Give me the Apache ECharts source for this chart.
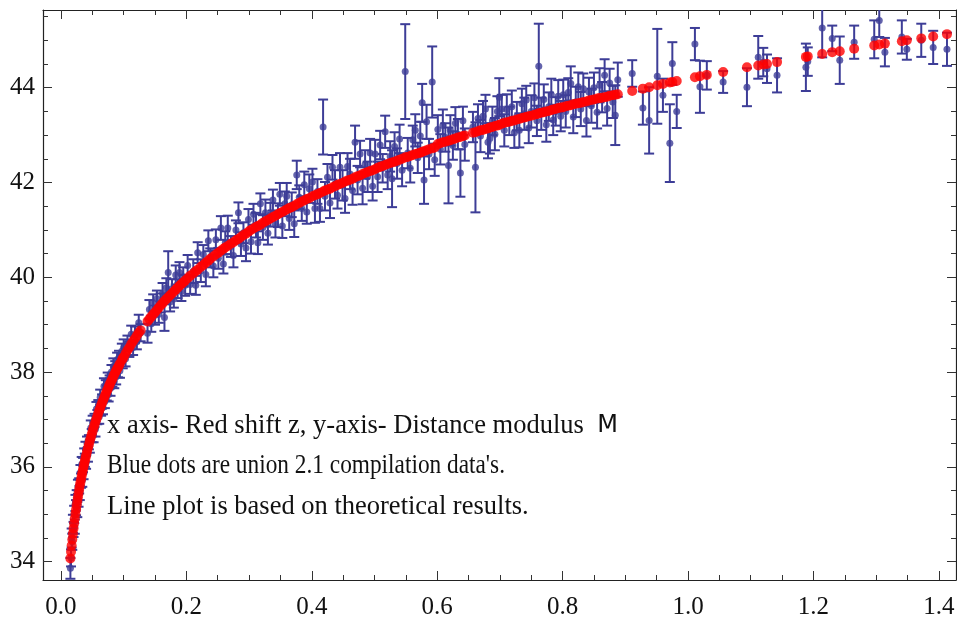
<!DOCTYPE html>
<html>
<head>
<meta charset="utf-8">
<title>Union 2.1 distance modulus</title>
<script src="https://cdn.jsdelivr.net/npm/echarts@6/dist/echarts.min.js"></script>
<style>
  html, body { margin: 0; padding: 0; background: #fff; }
  #chart { width: 957px; height: 619px; }
</style>
</head>
<body>
<div id="chart"></div>
<script>
// redshift z of each supernova
const redshift = [
  0.015, 0.016, 0.017, 0.018, 0.019, 0.020, 0.021, 0.022, 0.023, 0.024, 0.025, 0.026, 0.027, 0.028, 0.029, 0.030, 0.031, 0.032, 0.033, 0.034, 0.035, 0.036, 0.037, 0.038, 0.039, 0.040,
  0.0415, 0.043, 0.0445, 0.046, 0.0475, 0.049, 0.0505, 0.052, 0.0535, 0.055, 0.0565, 0.058, 0.0595, 0.061, 0.0625, 0.064, 0.0655, 0.067, 0.0685, 0.070, 0.0715, 0.073, 0.0745, 0.076, 0.0775, 0.079, 0.0805, 0.082, 0.0835, 0.085, 0.0865, 0.088, 0.0895, 0.091, 0.0925, 0.094, 0.097, 0.0985, 0.100,
  0.103, 0.106, 0.109, 0.112, 0.115, 0.118, 0.121, 0.124, 0.127, 0.138, 0.141, 0.144, 0.147, 0.150, 0.153, 0.156, 0.159, 0.162, 0.165, 0.168, 0.171, 0.174, 0.177, 0.180, 0.183, 0.186, 0.189, 0.192, 0.195, 0.198,
  0.202, 0.206, 0.211, 0.215, 0.218, 0.223, 0.227, 0.231, 0.235, 0.238, 0.243, 0.247, 0.251, 0.255, 0.259, 0.262, 0.266, 0.271, 0.275, 0.279, 0.283, 0.287, 0.291, 0.295, 0.299,
  0.303, 0.307, 0.311, 0.314, 0.318, 0.322, 0.326, 0.330, 0.334, 0.338, 0.342, 0.346, 0.349, 0.353, 0.357, 0.360, 0.364, 0.368, 0.372, 0.376, 0.380, 0.384, 0.388, 0.392, 0.396,
  0.401, 0.405, 0.409, 0.413, 0.418, 0.421, 0.425, 0.429, 0.433, 0.437, 0.441, 0.445, 0.449, 0.453, 0.457, 0.461, 0.465, 0.469, 0.473, 0.477, 0.481, 0.485, 0.489, 0.493, 0.497,
  0.501, 0.505, 0.509, 0.513, 0.517, 0.521, 0.525, 0.528, 0.532, 0.536, 0.540, 0.544, 0.549, 0.553, 0.557, 0.561, 0.565, 0.569, 0.573, 0.576, 0.579, 0.583, 0.587, 0.592, 0.596,
  0.601, 0.605, 0.609, 0.613, 0.618, 0.621, 0.625, 0.629, 0.633, 0.637, 0.641, 0.644, 0.657, 0.661, 0.665, 0.669, 0.673, 0.677, 0.681, 0.684, 0.688, 0.692, 0.696, 0.699,
  0.703, 0.707, 0.711, 0.715, 0.719, 0.723, 0.727, 0.731, 0.735, 0.739, 0.742, 0.746, 0.750, 0.755, 0.759, 0.762, 0.766, 0.770, 0.774, 0.778, 0.782, 0.785, 0.789, 0.793, 0.797,
  0.801, 0.805, 0.809, 0.813, 0.817, 0.821, 0.825, 0.829, 0.833, 0.838, 0.842, 0.846, 0.850, 0.855, 0.859, 0.863, 0.867, 0.871, 0.875, 0.880, 0.884, 0.888,
  0.911, 0.928, 0.938, 0.951, 0.960, 0.971, 0.975, 0.982, 1.011, 1.019, 1.030, 1.056, 1.094, 1.112, 1.120, 1.126, 1.142, 1.188, 1.191, 1.214, 1.230, 1.242, 1.265, 1.297, 1.305, 1.314, 1.341, 1.349, 1.372, 1.391, 1.413
];

// theoretical distance modulus at each redshift (red dots)
const muTheory = [
  34.07, 34.21, 34.34, 34.47, 34.59, 34.70, 34.81, 34.91, 35.01, 35.10, 35.19, 35.28, 35.36, 35.44, 35.52, 35.60, 35.67, 35.74, 35.81, 35.87, 35.94, 36.00, 36.06, 36.12, 36.18, 36.24,
  36.32, 36.40, 36.47, 36.55, 36.62, 36.69, 36.76, 36.83, 36.89, 36.95, 37.01, 37.07, 37.13, 37.19, 37.24, 37.30, 37.35, 37.40, 37.45, 37.50, 37.55, 37.60, 37.64, 37.69, 37.73, 37.78, 37.82, 37.86, 37.91, 37.95, 37.99, 38.03, 38.07, 38.10, 38.14, 38.18, 38.25, 38.29, 38.32,
  38.39, 38.46, 38.52, 38.59, 38.65, 38.71, 38.77, 38.83, 38.88, 39.07, 39.12, 39.17, 39.22, 39.26, 39.31, 39.36, 39.41, 39.45, 39.50, 39.54, 39.58, 39.62, 39.66, 39.70, 39.74, 39.78, 39.82, 39.86, 39.89, 39.93,
  39.98, 40.03, 40.08, 40.13, 40.16, 40.22, 40.26, 40.31, 40.35, 40.39, 40.44, 40.48, 40.52, 40.56, 40.60, 40.63, 40.66, 40.71, 40.74, 40.78, 40.81, 40.85, 40.89, 40.92, 40.96,
  41.00, 41.03, 41.06, 41.08, 41.11, 41.15, 41.18, 41.21, 41.24, 41.27, 41.30, 41.33, 41.35, 41.38, 41.41, 41.43, 41.46, 41.48, 41.51, 41.54, 41.57, 41.60, 41.62, 41.65, 41.67,
  41.71, 41.73, 41.75, 41.78, 41.81, 41.83, 41.85, 41.87, 41.90, 41.92, 41.95, 41.97, 41.99, 42.02, 42.04, 42.06, 42.08, 42.11, 42.13, 42.15, 42.18, 42.20, 42.22, 42.24, 42.26,
  42.28, 42.31, 42.33, 42.35, 42.37, 42.39, 42.41, 42.42, 42.44, 42.46, 42.48, 42.50, 42.53, 42.54, 42.56, 42.58, 42.60, 42.61, 42.63, 42.65, 42.66, 42.68, 42.70, 42.72, 42.74,
  42.81, 42.83, 42.85, 42.86, 42.88, 42.89, 42.91, 42.93, 42.95, 42.96, 42.98, 42.99, 43.05, 43.06, 43.08, 43.10, 43.11, 43.13, 43.14, 43.16, 43.17, 43.19, 43.20, 43.22,
  43.24, 43.26, 43.27, 43.28, 43.30, 43.31, 43.33, 43.34, 43.36, 43.37, 43.38, 43.40, 43.41, 43.43, 43.44, 43.46, 43.47, 43.48, 43.50, 43.51, 43.53, 43.54, 43.55, 43.57, 43.58,
  43.59, 43.61, 43.62, 43.63, 43.65, 43.66, 43.67, 43.68, 43.70, 43.71, 43.73, 43.74, 43.75, 43.77, 43.78, 43.79, 43.80, 43.81, 43.83, 43.84, 43.85, 43.86,
  43.93, 43.98, 44.01, 44.05, 44.08, 44.11, 44.12, 44.14, 44.22, 44.24, 44.27, 44.33, 44.43, 44.47, 44.49, 44.50, 44.54, 44.65, 44.66, 44.71, 44.75, 44.77, 44.82, 44.89, 44.91, 44.93, 44.98, 45.00, 45.04, 45.08, 45.13
];

// observed distance modulus (blue dots)
const muObserved = [
  33.86, 34.08, 34.50, 34.42, 34.80, 34.68, 35.00, 34.74, 35.24, 35.14, 35.36, 35.10, 35.58, 35.33, 35.60, 35.45, 35.88, 35.71, 36.05, 35.72, 36.04, 35.88, 36.24, 36.14, 36.38, 36.10,
  36.50, 36.26, 36.52, 36.44, 36.82, 36.66, 36.93, 36.67, 36.98, 36.80, 37.22, 37.05, 37.27, 37.06, 37.47, 37.22, 37.38, 37.26, 37.70, 37.38, 37.68, 37.56, 37.84, 37.53, 37.79, 37.66, 38.00, 37.84, 38.12, 37.81, 38.09, 37.90, 38.26, 38.05, 38.30, 38.03, 38.44, 38.23, 38.52,
  38.28, 38.62, 38.48, 38.80, 38.52, 38.79, 38.64, 39.04, 38.83, 38.82, 39.32, 39.02, 39.46, 39.20, 39.55, 39.22, 39.46, 39.66, 39.15, 39.78, 40.10, 39.48, 39.76, 39.54, 40.05, 39.76, 40.10, 39.70, 40.01, 39.83,
  40.25, 39.85, 40.13, 39.83, 40.52, 40.14, 40.48, 40.06, 40.77, 40.41, 40.24, 40.79, 40.40, 41.04, 40.28, 40.73, 41.04, 40.65, 40.46, 41.00, 41.36, 40.70, 40.94, 40.62, 41.22,
  40.75, 41.33, 41.10, 40.73, 41.55, 41.05, 41.36, 40.93, 41.32, 41.63, 41.12, 41.31, 41.75, 41.08, 41.55, 41.71, 41.24, 41.53, 41.13, 42.16, 41.69, 41.45, 41.95, 41.38, 41.87,
  42.01, 41.45, 41.81, 41.45, 43.17, 41.71, 42.11, 41.57, 42.32, 41.96, 41.73, 42.32, 41.94, 41.66, 42.34, 42.18, 41.83, 42.85, 42.05, 42.60, 41.88, 42.38, 42.12, 42.62, 41.92,
  42.60, 42.12, 42.79, 42.30, 43.07, 42.16, 42.55, 42.08, 42.76, 42.40, 42.92, 42.26, 44.34, 42.62, 42.30, 42.90, 43.10, 42.52, 42.98, 43.68, 42.05, 43.28, 42.60, 44.12, 42.48,
  43.12, 42.70, 43.20, 42.95, 42.36, 43.10, 42.78, 43.25, 43.02, 42.20, 43.30, 42.80, 43.17, 42.32, 43.35, 42.98, 43.40, 43.55, 42.85, 42.93, 43.30, 43.02, 43.50, 43.80,
  43.55, 43.10, 43.54, 43.30, 43.60, 43.05, 43.40, 43.10, 43.66, 43.45, 43.74, 43.15, 43.50, 43.79, 43.30, 44.45, 43.45, 43.75, 43.22, 43.60, 43.85, 43.32, 43.50, 43.82, 43.40,
  43.85, 43.50, 43.90, 44.09, 43.38, 43.70, 44.02, 43.55, 43.98, 43.31, 43.91, 43.62, 44.00, 43.48, 44.05, 43.80, 44.26, 43.56, 44.10, 43.70, 43.42, 44.17,
  44.30, 43.57, 43.31, 44.24, 43.84, 42.83, 44.51, 43.50, 44.92, 44.02, 44.26, 44.12, 44.01, 44.64, 44.54, 44.40, 44.26, 44.43, 44.55, 45.26, 45.04, 44.58, 44.96, 45.02, 45.42, 44.75, 45.07, 44.81, 45.00, 44.85, 44.81
];

// one-sigma error of each observed value
const muError = [
  0.22, 0.18, 0.20, 0.17, 0.19, 0.16, 0.18, 0.15, 0.17, 0.16, 0.15, 0.16, 0.15, 0.17, 0.16, 0.15, 0.16, 0.15, 0.16, 0.14, 0.15, 0.14, 0.15, 0.14, 0.15, 0.14,
  0.14, 0.15, 0.15, 0.14, 0.16, 0.14, 0.15, 0.15, 0.14, 0.16, 0.15, 0.15, 0.14, 0.15, 0.16, 0.14, 0.15, 0.15, 0.17, 0.14, 0.15, 0.16, 0.15, 0.15, 0.14, 0.16, 0.15, 0.15, 0.17, 0.15, 0.14, 0.16, 0.15, 0.16, 0.15, 0.15, 0.16, 0.15, 0.17,
  0.16, 0.15, 0.16, 0.18, 0.16, 0.17, 0.16, 0.17, 0.18, 0.20, 0.20, 0.17, 0.18, 0.20, 0.17, 0.18, 0.20, 0.22, 0.28, 0.20, 0.45, 0.20, 0.20, 0.18, 0.20, 0.20, 0.22, 0.20, 0.20, 0.22,
  0.22, 0.20, 0.25, 0.20, 0.22, 0.24, 0.20, 0.25, 0.22, 0.20, 0.24, 0.22, 0.22, 0.25, 0.20, 0.24, 0.26, 0.22, 0.25, 0.20, 0.22, 0.25, 0.22, 0.28, 0.22,
  0.25, 0.22, 0.26, 0.24, 0.22, 0.26, 0.28, 0.24, 0.25, 0.22, 0.28, 0.25, 0.24, 0.25, 0.26, 0.28, 0.24, 0.26, 0.28, 0.30, 0.25, 0.26, 0.28, 0.25, 0.30,
  0.28, 0.30, 0.26, 0.28, 0.58, 0.30, 0.28, 0.32, 0.26, 0.30, 0.28, 0.30, 0.32, 0.30, 0.28, 0.32, 0.30, 0.35, 0.30, 0.28, 0.34, 0.30, 0.32, 0.30, 0.30,
  0.30, 0.32, 0.30, 0.30, 0.34, 0.30, 0.32, 0.60, 0.30, 0.32, 0.30, 0.34, 1.00, 0.32, 0.30, 0.30, 0.34, 0.32, 0.30, 0.40, 0.50, 0.36, 0.32, 0.75, 0.34,
  0.30, 0.32, 0.34, 0.30, 0.80, 0.32, 0.30, 0.34, 0.32, 0.50, 0.30, 0.34, 0.32, 0.95, 0.30, 0.34, 0.32, 0.30, 0.34, 0.32, 0.30, 0.34, 0.32, 0.40,
  0.30, 0.34, 0.32, 0.30, 0.34, 0.32, 0.30, 0.36, 0.32, 0.34, 0.30, 0.32, 0.34, 0.30, 0.32, 0.90, 0.34, 0.32, 0.36, 0.30, 0.34, 0.32, 0.30, 0.34, 0.32,
  0.32, 0.34, 0.30, 0.36, 0.34, 0.32, 0.30, 0.36, 0.32, 0.34, 0.30, 0.36, 0.32, 0.34, 0.36, 0.32, 0.34, 0.36, 0.30, 0.34, 0.63, 0.36,
  0.28, 0.35, 0.70, 1.00, 0.35, 0.82, 0.45, 0.35, 0.34, 0.55, 0.30, 0.23, 0.40, 0.45, 0.30, 0.30, 0.36, 0.50, 0.30, 0.62, 0.27, 0.50, 0.35, 0.40, 0.35, 0.30, 0.35, 0.22, 0.35, 0.35, 0.35
];

const xMajorTicks = [0, 0.2, 0.4, 0.6, 0.8, 1.0, 1.2, 1.4];
const xMinorTicks = [0.05, 0.1, 0.15, 0.25, 0.3, 0.35, 0.45, 0.5, 0.55, 0.65, 0.7, 0.75, 0.85, 0.9, 0.95, 1.05, 1.1, 1.15, 1.25, 1.3, 1.35];
const yMajorTicks = [34, 36, 38, 40, 42, 44];
const yMinorTicks = [34.5, 35, 35.5, 36.5, 37, 37.5, 38.5, 39, 39.5, 40.5, 41, 41.5, 42.5, 43, 43.5, 44.5, 45, 45.5];

const noteLines = [
  'x axis- Red shift z, y-axis- Distance modulus  {m|M}',
  "Blue dots are union 2.1 compilation data's.",
  'Line plot is based on theoretical results.'
];
// horizontal squeeze of each note line as it appears in the picture
const noteScale = [1, 0.88, 1];

const X_MIN = -0.0287, X_MAX = 1.4274;
const Y_MIN = 33.614, Y_MAX = 45.639;
const BLUE = '#3d3d97';
const RED = '#ff0000';
const SERIF = 'Liberation Serif';

const n = Math.min(redshift.length, muTheory.length, muObserved.length, muError.length);
const errorData = [], observedData = [], theoryData = [];
for (let i = 0; i < n; i++) {
  errorData.push([redshift[i], muObserved[i] - muError[i], muObserved[i] + muError[i]]);
  observedData.push([redshift[i], muObserved[i]]);
  theoryData.push([redshift[i], muTheory[i]]);
}

function makeAxis(position, ticks, tickLen, withLabel, withLine, min, max, isX) {
  return {
    type: 'value',
    position: position,
    min: min,
    max: max,
    axisLine: { show: withLine, onZero: false, lineStyle: { color: '#222', width: 1.2 } },
    axisTick: { show: true, inside: true, length: tickLen, customValues: ticks, lineStyle: { color: '#333', width: 1 } },
    axisLabel: withLabel ? {
      show: true,
      customValues: ticks,
      fontFamily: SERIF,
      fontSize: 25,
      color: '#111',
      margin: isX ? 15 : 8,
      formatter: isX ? (v => v.toFixed(1)) : (v => String(Math.round(v)))
    } : { show: false },
    splitLine: { show: false }
  };
}

function renderErrorBar(params, api) {
  const cs = params.coordSys;
  const lo = api.coord([api.value(0), api.value(1)]);
  const hi = api.coord([api.value(0), api.value(2)]);
  const x = lo[0];
  const top = Math.max(hi[1], cs.y);
  const bottom = Math.min(lo[1], cs.y + cs.height);
  const style = { stroke: BLUE, lineWidth: 2 };
  const half = 5;
  const parts = [{ type: 'line', shape: { x1: x, y1: top, x2: x, y2: bottom }, style: style }];
  if (hi[1] >= cs.y) parts.push({ type: 'line', shape: { x1: x - half, y1: hi[1], x2: x + half, y2: hi[1] }, style: style });
  if (lo[1] <= cs.y + cs.height) parts.push({ type: 'line', shape: { x1: x - half, y1: lo[1], x2: x + half, y2: lo[1] }, style: style });
  return { type: 'group', children: parts };
}

const chart = echarts.init(document.getElementById('chart'));
chart.setOption({
  animation: false,
  backgroundColor: '#fff',
  grid: { left: 43, right: 1, top: 10, bottom: 39, containLabel: false, outerBoundsMode: 'none' },
  xAxis: [
    makeAxis('bottom', xMajorTicks, 9, true, true, X_MIN, X_MAX, true),
    makeAxis('bottom', xMinorTicks, 5, false, false, X_MIN, X_MAX, true),
    makeAxis('top', xMajorTicks, 9, false, true, X_MIN, X_MAX, true),
    makeAxis('top', xMinorTicks, 5, false, false, X_MIN, X_MAX, true)
  ],
  yAxis: [
    makeAxis('left', yMajorTicks, 9, true, true, Y_MIN, Y_MAX, false),
    makeAxis('left', yMinorTicks, 5, false, false, Y_MIN, Y_MAX, false),
    makeAxis('right', yMajorTicks, 9, false, true, Y_MIN, Y_MAX, false),
    makeAxis('right', yMinorTicks, 5, false, false, Y_MIN, Y_MAX, false)
  ],
  series: [
    {
      type: 'custom',
      name: 'error',
      renderItem: renderErrorBar,
      encode: { x: 0, y: [1, 2] },
      data: errorData,
      silent: true
    },
    {
      type: 'scatter',
      name: 'Union 2.1',
      data: observedData,
      symbolSize: 7,
      itemStyle: { color: BLUE },
      silent: true
    },
    {
      type: 'scatter',
      name: 'theory',
      data: theoryData,
      symbolSize: 10,
      itemStyle: { color: RED },
      silent: true
    }
  ],
  graphic: noteLines.map((line, i) => ({
    type: 'text',
    x: 107,
    y: 426 + i * 40.5,
    scaleX: noteScale[i],
    style: {
      text: line,
      fontFamily: SERIF,
      fontSize: 26.5,
      fill: '#111',
      verticalAlign: 'middle',
      rich: { m: { fontFamily: 'DejaVu Sans', fontSize: 24, fill: '#111' } }
    }
  }))
});
</script>
</body>
</html>
